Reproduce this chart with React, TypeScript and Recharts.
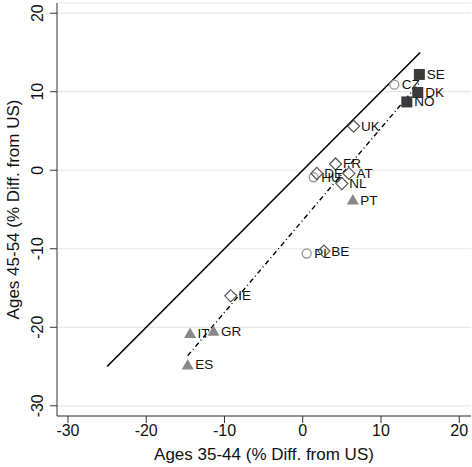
import { ScatterChart, Scatter, XAxis, YAxis, CartesianGrid, ReferenceLine } from 'recharts';

// axis ticks
const xTicks = [-30, -20, -10, 0, 10, 20];
const yTicks = [-30, -20, -10, 0, 10, 20];

// filled squares
const squareNames = ['SE', 'DK', 'NO'];
const squareX = [14.9, 14.7, 13.3];
const squareY = [12.2, 9.9, 8.7];

// hollow circles
const circleNames = ['CZ', 'HU', 'PL'];
const circleX = [11.7, 1.4, 0.5];
const circleY = [10.9, -0.9, -10.6];

// hollow diamonds
const diamondNames = ['UK', 'FR', 'DE', 'AT', 'NL', 'BE', 'IE'];
const diamondX = [6.5, 4.2, 1.8, 5.9, 5.0, 2.7, -9.2];
const diamondY = [5.6, 0.8, -0.4, -0.4, -1.7, -10.3, -16.0];

// filled triangles
const triangleNames = ['PT', 'IT', 'GR', 'ES'];
const triangleX = [6.4, -14.4, -11.4, -14.7];
const triangleY = [-3.8, -20.8, -20.5, -24.8];

// 45 degree line ends
const diagonalEnds = [-25, 15];

const xTitle = 'Ages 35-44 (% Diff. from US)';
const yTitle = 'Ages 45-54 (% Diff. from US)';

const toPoints = (names: string[], xs: number[], ys: number[]) =>
  names.map((name, i) => ({ name, x: xs[i], y: ys[i] }));

const squares = toPoints(squareNames, squareX, squareY);
const circles = toPoints(circleNames, circleX, circleY);
const diamonds = toPoints(diamondNames, diamondX, diamondY);
const triangles = toPoints(triangleNames, triangleX, triangleY);

// OLS fit over all countries
const allPts = [...squares, ...circles, ...diamonds, ...triangles];
const mx = allPts.reduce((s, p) => s + p.x, 0) / allPts.length;
const my = allPts.reduce((s, p) => s + p.y, 0) / allPts.length;
const slope =
  allPts.reduce((s, p) => s + (p.x - mx) * (p.y - my), 0) /
  allPts.reduce((s, p) => s + (p.x - mx) ** 2, 0);
const intercept = my - slope * mx;
const xs = allPts.map((p) => p.x);
const fitLine = [Math.min(...xs), Math.max(...xs)].map((x) => ({ x, y: intercept + slope * x }));

const FONT = 'Liberation Sans, Arial, Helvetica, sans-serif';

const label = (cx: number, cy: number, name: string) => (
  <text x={cx + 7.5} y={cy} dominantBaseline="central" fontSize={13.5} fontFamily={FONT} fill="#111">
    {name}
  </text>
);

const SquareShape = (props: any) => {
  const { cx, cy } = props;
  const name = props.payload?.name ?? props.name;
  return (
    <g>
      <rect x={cx - 5.5} y={cy - 5.5} width={11} height={11} fill="#3a3a3a" />
      {label(cx, cy, name)}
    </g>
  );
};

const CircleShape = (props: any) => {
  const { cx, cy } = props;
  const name = props.payload?.name ?? props.name;
  return (
    <g>
      <circle cx={cx} cy={cy} r={4.5} fill="none" stroke="#9a9a9a" strokeWidth={1.4} />
      {label(cx, cy, name)}
    </g>
  );
};

const DiamondShape = (props: any) => {
  const { cx, cy } = props;
  const name = props.payload?.name ?? props.name;
  const r = 6;
  return (
    <g>
      <path
        d={`M${cx},${cy - r}L${cx + r},${cy}L${cx},${cy + r}L${cx - r},${cy}Z`}
        fill="none"
        stroke="#555"
        strokeWidth={1.2}
      />
      {label(cx, cy, name)}
    </g>
  );
};

const TriangleShape = (props: any) => {
  const { cx, cy } = props;
  const name = props.payload?.name ?? props.name;
  return (
    <g>
      <path d={`M${cx},${cy - 6}L${cx + 6},${cy + 4.5}L${cx - 6},${cy + 4.5}Z`} fill="#888" />
      {label(cx, cy, name)}
    </g>
  );
};

const NoShape = () => <g />;

const XTick = (props: any) => {
  const { x, y, payload } = props;
  return (
    <text x={x} y={y + 11} textAnchor="middle" fontSize={16} fontFamily={FONT} fill="#111">
      {payload.value}
    </text>
  );
};

const YTick = (props: any) => {
  const { x, y, payload } = props;
  return (
    <text
      transform={`translate(${x - 5},${y}) rotate(-90)`}
      textAnchor="middle"
      fontSize={16}
      fontFamily={FONT}
      fill="#111"
    >
      {payload.value}
    </text>
  );
};

export default function App() {
  return (
    <div style={{ position: 'absolute', left: 0, top: 0, width: 472, height: 467, background: '#fff' }}>
      <ScatterChart width={472} height={467} margin={{ top: 3, right: 1, bottom: 0, left: 0 }}>
        <CartesianGrid horizontal vertical={false} stroke="#e8e8e8" strokeWidth={1.2} />
        <XAxis
          type="number"
          dataKey="x"
          domain={[-31.4, 21.5]}
          ticks={xTicks}
          allowDataOverflow
          height={51}
          tickSize={7}
          tickMargin={2}
          stroke="#333"
          tick={<XTick />}
        />
        <YAxis
          type="number"
          dataKey="y"
          domain={[-31.3, 21.3]}
          ticks={yTicks}
          allowDataOverflow
          width={57}
          tickSize={7}
          tickMargin={2}
          stroke="#333"
          tick={<YTick />}
        />
        <ReferenceLine
          segment={[
            { x: diagonalEnds[0], y: diagonalEnds[0] },
            { x: diagonalEnds[1], y: diagonalEnds[1] },
          ]}
          stroke="#000"
          strokeWidth={1.6}
        />
        <Scatter
          data={fitLine}
          line={{ stroke: '#000', strokeWidth: 1.4, strokeDasharray: '5 3 1 3' }}
          shape={<NoShape />}
          isAnimationActive={false}
        />
        <Scatter data={circles} shape={<CircleShape />} isAnimationActive={false} />
        <Scatter data={diamonds} shape={<DiamondShape />} isAnimationActive={false} />
        <Scatter data={triangles} shape={<TriangleShape />} isAnimationActive={false} />
        <Scatter data={squares} shape={<SquareShape />} isAnimationActive={false} />
      </ScatterChart>
      <svg
        width={472}
        height={467}
        style={{ position: 'absolute', left: 0, top: 0, pointerEvents: 'none' }}
      >
        <text x={264} y={460} textAnchor="middle" fontSize={17} fontFamily={FONT} fill="#111">
          {xTitle}
        </text>
        <text
          transform="translate(19,209.5) rotate(-90)"
          textAnchor="middle"
          fontSize={17}
          fontFamily={FONT}
          fill="#111"
        >
          {yTitle}
        </text>
      </svg>
    </div>
  );
}
